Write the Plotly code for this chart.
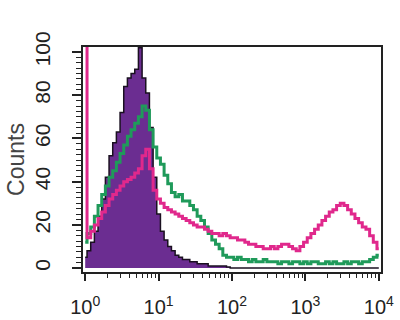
import numpy as np
import plotly.graph_objects as go

# channel grid in decades (log10 of fluorescence)
log_channels = np.round(np.arange(0, 4.001, 0.05), 2)

purple_counts = [5, 8, 12, 17, 24, 32, 42, 52, 58, 63, 72, 84, 88, 90, 92, 102, 88, 81, 65, 42,
                 25, 17, 13, 10, 8, 6, 5, 4, 4, 3, 3, 2, 2, 2, 1, 1, 1, 1, 1, 0.5,
                 0, 0, 0, 0, 0, 0, 0, 0, 0, 0, 0, 0, 0, 0, 0, 0, 0, 0, 0, 0,
                 0, 0, 0, 0, 0, 0, 0, 0, 0, 0, 0, 0, 0, 0, 0, 0, 0, 0, 0, 0, 0]

green_counts = [12, 16, 19, 24, 29, 34, 38, 42, 45, 49, 53, 57, 61, 64, 67, 70, 75, 73, 64, 56,
                51, 48, 43, 39, 35, 33, 34, 31, 31, 29, 27, 24, 22, 19, 16, 13, 11, 9, 6, 5,
                5, 4, 5, 4, 4, 3, 4, 3, 3, 4, 3, 3, 3, 2, 3, 3, 2, 3, 3, 2,
                3, 2, 3, 3, 2, 2, 3, 2, 3, 2, 2, 3, 2, 3, 3, 2, 3, 3, 4, 5, 6]

pink_counts = [130, 14, 17, 20, 23, 26, 29, 32, 34, 36, 38, 40, 41, 42, 44, 46, 52, 55, 46, 36,
               32, 30, 28, 27, 26, 25, 24, 23, 22, 21, 20, 19, 19, 18, 17, 16, 16, 15, 16, 15,
               14, 14, 13, 13, 12, 11, 11, 10, 10, 9, 9, 10, 9, 10, 11, 11, 10, 9, 8, 10,
               12, 14, 16, 18, 20, 22, 24, 26, 27, 29, 30, 29, 27, 25, 23, 21, 19, 18, 15, 12, 9]

x_tick_vals = [0, 1, 2, 3, 4]
x_tick_text = ["10<sup>0</sup>", "10<sup>1</sup>", "10<sup>2</sup>", "10<sup>3</sup>", "10<sup>4</sup>"]
y_tick_vals = [0, 20, 40, 60, 80, 100]
x_minor_vals = [d + np.log10(k) for d in range(4) for k in range(2, 10)]

fig = go.Figure()
fig.add_trace(go.Scatter(x=log_channels, y=purple_counts, mode="lines", line_shape="hvh",
                         line=dict(color="#1a1020", width=1.5), fill="tozeroy",
                         fillcolor="#6b2d91", showlegend=False))
fig.add_trace(go.Scatter(x=log_channels, y=green_counts, mode="lines", line_shape="hvh",
                         line=dict(color="#1f9a5a", width=3), showlegend=False))
fig.add_trace(go.Scatter(x=log_channels, y=pink_counts, mode="lines", line_shape="hvh",
                         line=dict(color="#e0288c", width=3), showlegend=False))

fig.update_layout(
    template="none",
    width=400, height=320,
    margin=dict(l=83, r=19, t=47, b=48),
    paper_bgcolor="white", plot_bgcolor="white",
    font=dict(family="Liberation Sans, Arial, sans-serif", color="#222222"),
    xaxis=dict(range=[-0.03, 4.03], showgrid=False, zeroline=False, automargin=False,
               showline=True, linecolor="#222222", linewidth=2, mirror=True,
               tickmode="array", tickvals=x_tick_vals, ticktext=x_tick_text,
               ticks="outside", ticklen=7, tickwidth=1.5, tickcolor="#222222",
               tickfont=dict(size=20), ticklabelstandoff=9,
               minor=dict(tickvals=x_minor_vals, ticks="outside", ticklen=4,
                          tickwidth=1.2, tickcolor="#222222")),
    yaxis=dict(range=[-1.8, 102.3], showgrid=False, zeroline=False, automargin=False,
               showline=True, linecolor="#222222", linewidth=2, mirror=True,
               tickmode="array", tickvals=y_tick_vals,
               ticks="outside", ticklen=9, tickwidth=1.5, tickcolor="#222222",
               tickangle=-90, tickfont=dict(size=21), ticklabelstandoff=14,
               minor=dict(dtick=2.5, ticks="outside", ticklen=5, tickwidth=1.2,
                          tickcolor="#222222"),
               title=dict(text="Counts", font=dict(size=23, color="#444444"), standoff=0)),
)

fig.write_html("out.html")
